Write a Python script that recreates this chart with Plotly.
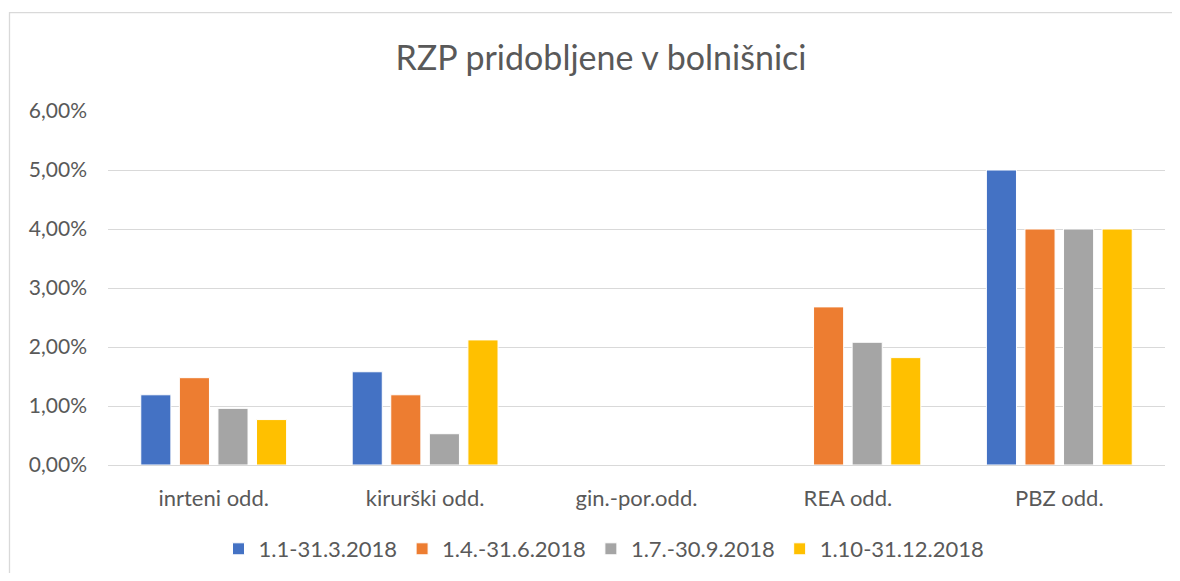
import plotly.graph_objects as go

categories = ["inrteni odd.", "kirurški odd.", "gin.-por.odd.", "REA odd.", "PBZ odd."]
series_names = ["1.1-31.3.2018", "1.4.-31.6.2018", "1.7.-30.9.2018", "1.10-31.12.2018"]
q1 = [0.0119, 0.0158, 0.0, 0.0, 0.05]
q2 = [0.0148, 0.0119, 0.0, 0.0268, 0.04]
q3 = [0.0096, 0.0053, 0.0, 0.0208, 0.04]
q4 = [0.0077, 0.0212, 0.0, 0.0182, 0.04]
colors = ["#4472C4", "#ED7D31", "#A5A5A5", "#FFC000"]
tick_vals = [0, 0.01, 0.02, 0.03, 0.04, 0.05, 0.06]

FONT = "Lato"
W, H = 1164, 565
L, R, T, B = 100, 1157, 103, 457.5

fig = go.Figure()
for name, vals, c in zip(series_names, [q1, q2, q3, q4], colors):
    fig.add_trace(go.Bar(x=categories, y=vals, name=name,
                         marker=dict(color=c, line=dict(color="white", width=1))))

fig.update_layout(
    width=W, height=H,
    paper_bgcolor="white", plot_bgcolor="white",
    separators=",.",
    barmode="group", bargap=0.27, bargroupgap=0.22,
    margin=dict(l=L, r=W - R, t=T, b=H - B, pad=0),
    font=dict(family=FONT, color="#595959", size=20),
    title=dict(text="RZP pridobljene v bolnišnici", x=593 / W, xref="container", xanchor="center",
               y=1 - 50 / H, yref="container", yanchor="middle",
               font=dict(family=FONT, size=34, color="#595959")),
    legend=dict(orientation="h", x=596 / W, xref="container", xanchor="center",
                y=24 / H, yref="container", yanchor="middle",
                font=dict(family=FONT, size=22, color="#595959"),
                itemwidth=30, traceorder="normal"),
    showlegend=True,
)
fig.update_yaxes(range=[0, 0.06], tickvals=tick_vals, tickformat=".2%",
                 showgrid=True, gridcolor="#D9D9D9", gridwidth=1.3,
                 zeroline=False, showline=False, ticks="", ticklen=0,
                 ticklabelstandoff=20,
                 tickfont=dict(size=21, color="#595959"))
fig.update_xaxes(showline=True, linecolor="#D9D9D9", linewidth=1.3, ticks="",
                 ticklabelstandoff=13,
                 tickfont=dict(size=22, color="#595959"))
# chart-area border (only left and top visible in frame)
fig.add_shape(type="rect", xref="paper", yref="paper",
              x0=(1.5 - L) / (R - L), x1=(W + 20 - L) / (R - L),
              y0=(B - (H + 20)) / (B - T), y1=(B - 4.5) / (B - T),
              line=dict(color="#D9D9D9", width=1.3), fillcolor="rgba(0,0,0,0)", layer="below")
fig.write_html("out.html")
